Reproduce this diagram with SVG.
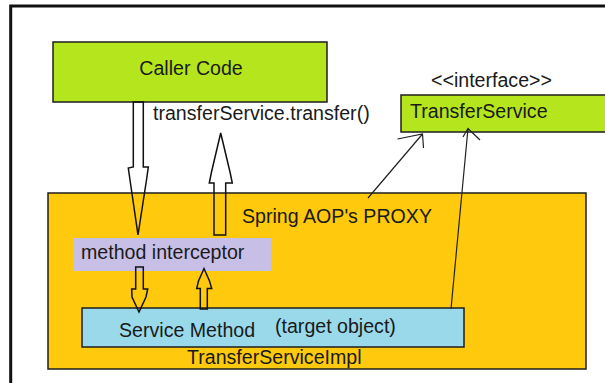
<svg xmlns="http://www.w3.org/2000/svg" width="605" height="383" viewBox="0 0 605 383">
  <style>
    .box { stroke: #1e1e1e; stroke-width: 1.5; }
    .t { font-family: "Liberation Sans", Arial, sans-serif; font-size: 19.6px; fill: #1a1a1a; }
    .blk { fill: none; stroke: #111; stroke-width: 1.5; stroke-linejoin: miter; }
    .thin { fill: none; stroke: #222; stroke-width: 1.2; }
  </style>
  <rect x="0" y="0" width="605" height="383" fill="#ffffff"/>
  <path d="M10.7 383 V6 H605" fill="none" stroke="#111" stroke-width="3"/>

  <g id="caller">
    <rect class="box" x="53" y="42" width="274" height="60" fill="#b5e61d"/>
    <text class="t" x="191" y="75" text-anchor="middle" font-size="20">Caller Code</text>
  </g>

  <g id="transferService">
    <text class="t" x="431" y="87">&lt;&lt;interface&gt;&gt;</text>
    <rect class="box" x="401" y="95" width="230" height="37" fill="#b5e61d"/>
    <text class="t" x="410" y="118">TransferService</text>
  </g>

  <g id="proxy">
    <rect class="box" x="48" y="193" width="538" height="176" fill="#ffc90e"/>
    <text class="t" x="242" y="223">Spring AOP's PROXY</text>
    <text class="t" x="187" y="364">TransferServiceImpl</text>
  </g>

  <g id="interceptor">
    <rect x="73" y="238" width="198" height="33" fill="#c8bfe7"/>
    <text class="t" x="81" y="259">method interceptor</text>
  </g>

  <g id="serviceMethod">
    <rect class="box" x="82" y="308" width="382" height="39" fill="#99d9ea"/>
    <text class="t" x="119" y="337">Service Method</text>
    <text class="t" x="275" y="333">(target object)</text>
  </g>

  <g id="connectors">
    <polygon class="blk" points="133.3,102 133.3,167 128.3,168 130,180 138,235 146.5,180 148.3,167 143.3,167 143.3,102"/>
    <polygon class="blk" points="214,235 214,183 209.3,183 211.5,172 220.7,133 230,172 232.3,183 225.7,183 225.7,235"/>
    <polygon class="blk" points="135.7,267 143.3,267 143.3,289 147.7,289 146,297 139,312 132,297 131.7,289 135.7,289"/>
    <polygon class="blk" points="200.3,309 200.3,288.5 196.7,288.5 198.5,281 204,268.5 209.5,281 211.7,288.5 207.3,288.5 207.3,309"/>
    <text class="t" x="153" y="120">transferService.transfer()</text>
    <path class="thin" d="M368 198 L422.5 134 M397.5 139 L422.5 134 L423.5 148"/>
    <path class="thin" d="M451 309 L468 128.5 M463 137 L468 128.5 L480 140"/>
  </g>
</svg>
